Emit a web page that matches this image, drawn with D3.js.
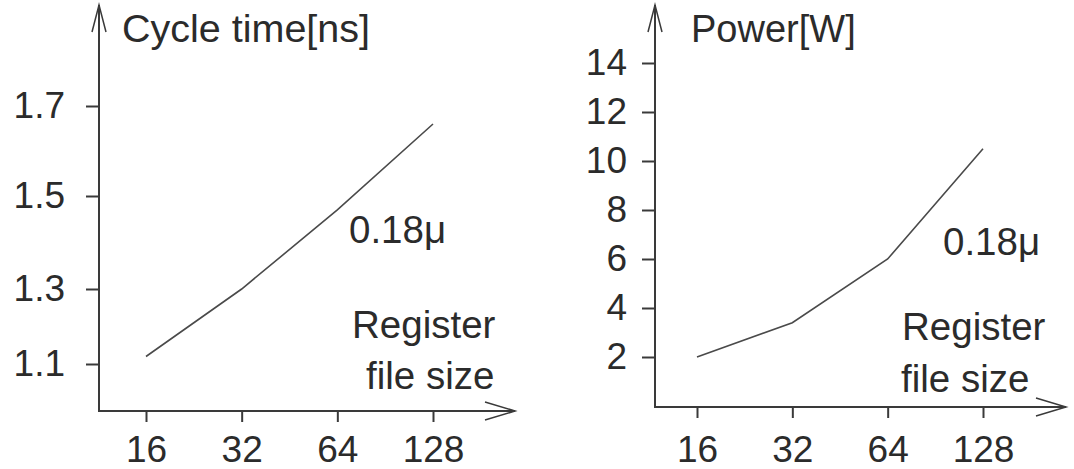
<!DOCTYPE html>
<html>
<head>
<meta charset="utf-8">
<script src="https://cdn.jsdelivr.net/npm/d3@7"></script>
<style>
  html, body { margin: 0; padding: 0; background: #fff; }
  svg { display: block; }
  text { font-family: "Liberation Sans", Arial, sans-serif; fill: #2b2b2b; }
</style>
</head>
<body>
<svg id="chart" width="1074" height="469"></svg>
<script>
// Register file sizes on the horizontal axis
const sizes = ["16", "32", "64", "128"];

// Cycle time (ns) at 0.18 micron
const cycleTime = [1.12, 1.30, 1.47, 1.66];
const cycleTicks = [1.1, 1.3, 1.5, 1.7];

// Power (W) at 0.18 micron
const power = [2.0, 3.4, 6.0, 10.5];
const powerTicks = [2, 4, 6, 8, 10, 12, 14];

const svg = d3.select("#chart");
const ink = "#3a3a3a";

function panel(cfg) {
  const g = svg.append("g");

  const x = d3.scalePoint().domain(sizes).range(cfg.xRange);
  const y = cfg.y;

  // x axis ticks and labels
  const xa = g.append("g")
    .attr("transform", `translate(0,${cfg.axisY})`)
    .call(d3.axisBottom(x).tickSize(11).tickPadding(cfg.xPad));
  xa.select(".domain").remove();
  xa.selectAll(".tick line").attr("stroke", ink).attr("stroke-width", 2);
  xa.selectAll(".tick text").attr("font-size", 37).attr("fill", "#2b2b2b")
    .attr("font-family", "Liberation Sans, Arial, sans-serif");

  // y axis ticks and labels
  const ya = g.append("g")
    .attr("transform", `translate(${cfg.axisX},0)`)
    .call(d3.axisLeft(y).tickValues(cfg.ticks).tickSize(13).tickPadding(cfg.yPad)
      .tickFormat(cfg.fmt));
  ya.select(".domain").remove();
  ya.selectAll(".tick line").attr("stroke", ink).attr("stroke-width", 2);
  ya.selectAll(".tick text").attr("font-size", 37).attr("fill", "#2b2b2b")
    .attr("font-family", "Liberation Sans, Arial, sans-serif");

  // axis lines with open arrow heads
  const axes = g.append("g").attr("fill", "none").attr("stroke", ink)
    .attr("stroke-width", 2);
  axes.append("path")
    .attr("d", `M${cfg.axisX},${cfg.topY} L${cfg.axisX},${cfg.axisY} L${cfg.tipX},${cfg.axisY}`);
  axes.append("path").attr("stroke-width", 1.5)
    .attr("d", `M${cfg.axisX - 7},${cfg.topY + 27} L${cfg.axisX},${cfg.topY} L${cfg.axisX + 7},${cfg.topY + 27}`);
  axes.append("path").attr("stroke-width", 1.5)
    .attr("d", `M${cfg.tipX - 30},${cfg.axisY - 9} L${cfg.tipX},${cfg.axisY} L${cfg.tipX - 30},${cfg.axisY + 9}`);

  // data line
  const line = d3.line()
    .x((d, i) => x(sizes[i]))
    .y(d => y(d));
  g.append("path")
    .datum(cfg.values)
    .attr("fill", "none")
    .attr("stroke", "#4a4a4a")
    .attr("stroke-width", 1.6)
    .attr("d", line);

  // axis title
  g.append("text")
    .attr("x", cfg.title[1]).attr("y", 42)
    .attr("font-size", cfg.title[2])
    .text(cfg.title[0]);

  // annotations
  cfg.notes.forEach(n => {
    g.append("text")
      .attr("x", n[1]).attr("y", n[2])
      .attr("font-size", 38.5)
      .text(n[0]);
  });
}

// left panel: cycle time
panel({
  xRange: [146, 433],
  axisX: 99, axisY: 411, topY: 5, tipX: 515,
  y: d3.scaleLinear().domain(cycleTicks).range([364, 289, 196, 106]),
  ticks: cycleTicks,
  fmt: d3.format(".1f"),
  values: cycleTime,
  xPad: 14, yPad: 21,
  title: ["Cycle time[ns]", 122, 39.5],
  notes: [["0.18μ", 349, 243], ["Register", 352, 338], ["file size", 366, 389]]
});

// right panel: power
panel({
  xRange: [697, 983],
  axisX: 655, axisY: 407, topY: 5, tipX: 1066,
  y: d3.scaleLinear().domain([2, 14]).range([357, 63]),
  ticks: powerTicks,
  fmt: d3.format("d"),
  values: power,
  xPad: 18, yPad: 15,
  title: ["Power[W]", 691, 38],
  notes: [["0.18μ", 943, 255], ["Register", 902, 340], ["file size", 901, 392]]
});
</script>
</body>
</html>
